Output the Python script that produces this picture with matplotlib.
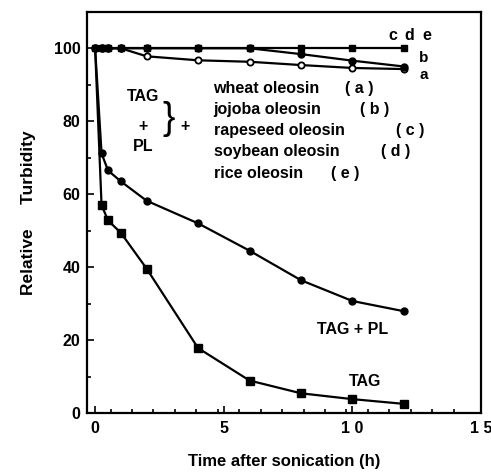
import matplotlib.pyplot as plt
from matplotlib.ticker import FixedLocator, MultipleLocator

plt.rcParams['font.family'] = ['Liberation Sans', 'DejaVu Sans']
plt.rcParams['font.weight'] = 'bold'

# tiempos de muestreo (h)
hours = [0, 0.25, 0.5, 1, 2, 4, 6, 8, 10, 12]

# oleosinas
oleosin_cde = [100, 100, 100, 100, 100, 100, 100, 100, 100, 100]
oleosin_b = [100, 100, 100, 100, 100, 100, 100, 98.4, 96.6, 95.0]
oleosin_a = [100, 100, 100, 100, 97.8, 96.7, 96.3, 95.4, 94.6, 94.3]

# controles
tag_pl = [100, 71.2, 66.5, 63.5, 58.2, 52.0, 44.5, 36.4, 30.7, 27.9]
tag = [100, 57.0, 52.8, 49.4, 39.6, 17.8, 8.9, 5.4, 3.8, 2.5]

legend_rows = ['wheat oleosin', 'jojoba oleosin', 'rapeseed oleosin',
               'soybean oleosin', 'rice oleosin']
legend_tags = ['( a )', '( b )', '( c )', '( d )', '( e )']

xticks = [0, 5, 10, 15]
xticklabels = ['0', '5', '1 0', '1 5']
yticks = [0, 20, 40, 60, 80, 100]

fig = plt.figure(figsize=(4.91, 4.72), dpi=100)
ax = fig.add_axes([0.178, 0.125, 0.802, 0.85])

lw = 1.6
ax.plot(hours, oleosin_a, color='black', lw=lw, marker='o', ms=4.5,
        mfc='white', mec='black', mew=1.3, zorder=3)
ax.plot(hours, oleosin_b, color='black', lw=lw, marker='o', ms=5,
        mfc='black', mec='black', zorder=3)
ax.plot(hours, oleosin_cde, color='black', lw=lw, marker='s', ms=5,
        mfc='black', mec='black', zorder=4)
ax.plot(hours, tag_pl, color='black', lw=lw, marker='o', ms=5,
        mfc='black', mec='black', markevery=list(range(1, 10)))
ax.plot(hours, tag, color='black', lw=lw, marker='s', ms=5.5,
        mfc='black', mec='black', markevery=list(range(1, 10)))

ax.set_xlim(-0.3, 15)
ax.set_ylim(0, 110)
ax.set_xticks(xticks)
ax.set_xticklabels(xticklabels)
ax.set_yticks(yticks)
ax.xaxis.set_minor_locator(FixedLocator([0.6 + i * 5 / 6 for i in range(17)]))
ax.yaxis.set_minor_locator(MultipleLocator(10))
ax.tick_params(which='both', direction='in', width=1.2)
ax.tick_params(which='major', length=5, labelsize=11.5, pad=5)
ax.tick_params(which='minor', length=3)
for s in ax.spines.values():
    s.set_linewidth(1.6)
ax.tick_params(axis='x', pad=6)

ax.set_xlabel('Time after sonication (h)', fontsize=12, fontweight='bold',
              labelpad=13)
ax.set_ylabel('Relative     Turbidity', fontsize=12.5, fontweight='bold',
              labelpad=13)

fs = 11.5
# etiquetas de curvas
ax.text(11.55, 103.6, 'c', fontsize=fs, ha='center', va='center')
ax.text(12.2, 103.6, 'd', fontsize=fs, ha='center', va='center')
ax.text(12.9, 103.6, 'e', fontsize=fs, ha='center', va='center')
ax.text(12.75, 97.4, 'b', fontsize=11, ha='center', va='center')
ax.text(12.75, 92.6, 'a', fontsize=11, ha='center', va='center')

# leyenda escrita a mano
tag_left = [9.7, 10.3, 11.7, 11.1, 9.15]
for i, (name, t) in enumerate(zip(legend_rows, legend_tags)):
    y = 89.0 - i * 5.8
    ax.text(4.6, y, name, fontsize=fs, ha='left', va='center')
    ax.text(tag_left[i], y, t, fontsize=fs, ha='left', va='center')

ax.text(1.85, 86.8, 'TAG', fontsize=fs, ha='center', va='center')
ax.text(1.85, 78.5, '+', fontsize=fs, ha='center', va='center')
ax.text(1.85, 73.0, 'PL', fontsize=fs, ha='center', va='center')
ax.text(2.85, 80.5, '}', fontsize=27, ha='center', va='center',
        fontweight='normal')
ax.text(3.5, 78.5, '+', fontsize=fs, ha='center', va='center')

ax.text(10.0, 22.8, 'TAG + PL', fontsize=fs, ha='center', va='center')
ax.text(10.5, 8.6, 'TAG', fontsize=fs, ha='center', va='center')

plt.savefig('out.png', dpi=100)
